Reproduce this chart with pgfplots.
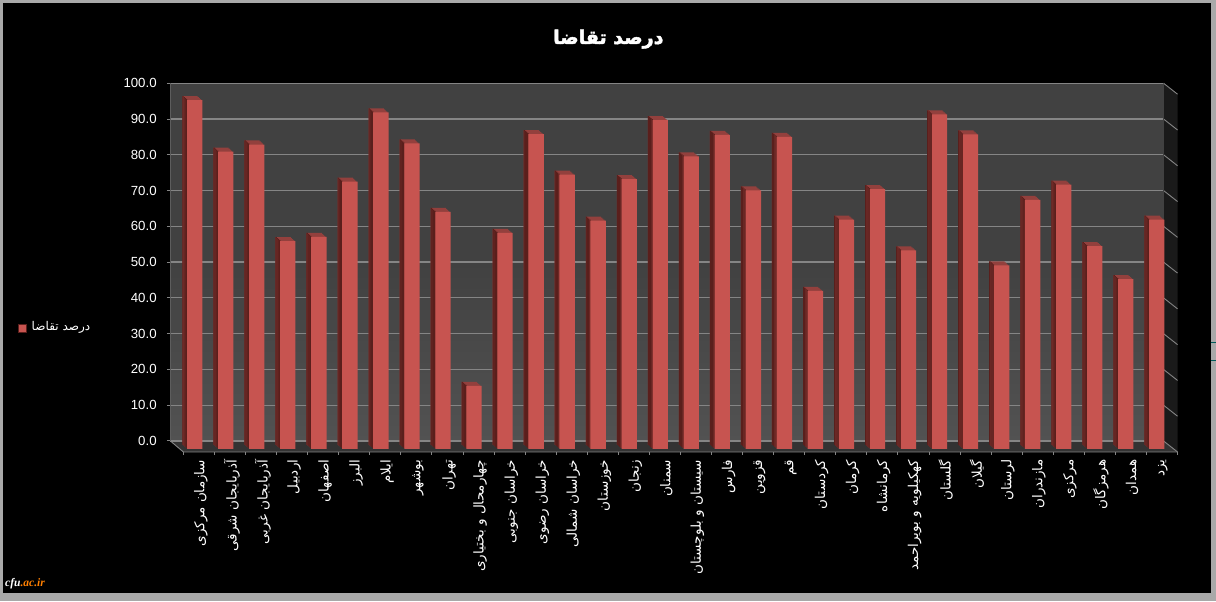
\documentclass[border=0pt]{standalone}
\usepackage{fontspec}
\usepackage{pgfplots}
\usepackage{pgfplotstable}
\pgfplotsset{compat=1.18}
\setmainfont{Liberation Sans}
\newfontfamily\arabicfont[Script=Arabic]{DejaVu Sans}
\newfontfamily\titlefont[Script=Arabic,FakeBold=2.5]{DejaVu Sans Bold}
\newfontfamily\wmfont{Liberation Serif}
\TeXXeTstate=1
\definecolor{framegray}{HTML}{A9A9A9}
\definecolor{wallT}{HTML}{414141}
\definecolor{wallB}{HTML}{525252}
\definecolor{floorc}{HTML}{333333}
\definecolor{sidewall}{HTML}{1A1A1A}
\definecolor{gridc}{HTML}{858585}
\definecolor{barfront}{HTML}{C75450}
\definecolor{bartop}{HTML}{93403D}
\definecolor{barside}{HTML}{5A1F1C}
\pgfplotstableread{
k val
0 97.5
1 83.1
2 85.1
3 58.1
4 59.3
5 74.7
6 94.1
7 85.4
8 66.3
9 17.6
10 60.4
11 88.0
12 76.7
13 63.8
14 75.4
15 91.9
16 81.8
17 87.8
18 72.3
19 87.2
20 44.2
21 64.1
22 72.6
23 55.5
24 93.5
25 87.9
26 51.3
27 69.6
28 73.9
29 56.7
30 47.5
31 64.1
}\demand
\newcommand{\layer}[2]{%
  \addplot[ybar,bar width=15.3pt,bar shift=0pt,fill=bartop,draw=none,xshift=#1pt,yshift=#2pt,forget plot] table[x=k,y=val]{\demand};
  \addplot[ybar,bar width=1.4pt,bar shift=-6.95pt,fill=barside,draw=none,xshift=#1pt,yshift=#2pt,forget plot] table[x=k,y=val]{\demand};
}
\begin{document}
\begin{tikzpicture}[x=1pt,y=1pt]
% frame and background
\fill[framegray] (0,0) rectangle (1213,600);
\fill[black] (3,8) rectangle (1208,597);
\draw[teal!70!black,line width=0.8pt] (1208,258) -- (1213,258);
\draw[teal!70!black,line width=0.8pt] (1208,240) -- (1213,240);
% floor and side wall of the chart box
\fill[floorc] (170,160) -- (1161,160) -- (1175,149) -- (183,149) -- cycle;
\fill[sidewall] (1161,517) -- (1175,506) -- (1175,149) -- (1161,160) -- cycle;
\foreach \i in {0,...,10}{
  \draw[gridc,line width=0.9pt] (1161,{160+35.7*\i}) -- (1175,{149+35.7*\i});
}
\draw[gridc,line width=0.9pt] (170,160) -- (183,149) -- (1175,149);
\foreach \i in {0,...,32}{
  \draw[gridc,line width=0.9pt] ({183+31*\i},149) -- ({183+31*\i},146);
}
\begin{axis}[
  at={(170pt,160pt)},anchor=south west,
  scale only axis,width=991pt,height=357pt,
  xmin=-0.5,xmax=31.5,ymin=0,ymax=100,
  clip=false,
  axis line style={draw=none},
  axis background/.style={top color=wallT,bottom color=wallB,middle color=wallT},
  ymajorgrids,
  grid style={gridc,line width=1.2pt},
  ytick={0,10,...,100},
  xtick={0,...,31},
  xticklabels={
    {\beginR سازمان مرکزی\endR},{\beginR آذربایجان شرقی\endR},{\beginR آذربایجان غربی\endR},{\beginR اردبیل\endR},
    {\beginR اصفهان\endR},{\beginR البرز\endR},{\beginR ایلام\endR},{\beginR بوشهر\endR},{\beginR تهران\endR},
    {\beginR چهارمحال و بختیاری\endR},{\beginR خراسان جنوبی\endR},{\beginR خراسان رضوی\endR},{\beginR خراسان شمالی\endR},
    {\beginR خوزستان\endR},{\beginR زنجان\endR},{\beginR سمنان\endR},{\beginR سیستان و بلوچستان\endR},{\beginR فارس\endR},
    {\beginR قزوین\endR},{\beginR قم\endR},{\beginR کردستان\endR},{\beginR کرمان\endR},{\beginR کرمانشاه\endR},
    {\beginR کهکیلویه و بویراحمد\endR},{\beginR گلستان\endR},{\beginR گیلان\endR},{\beginR لرستان\endR},{\beginR مازندران\endR},
    {\beginR مرکزی\endR},{\beginR هرمزگان\endR},{\beginR همدان\endR},{\beginR یزد\endR}},
  xtick pos=bottom,ytick pos=left,
  x tick style={draw=none},
  y tick style={gridc,line width=0.9pt},
  tick align=outside,
  major tick length=3.5pt,
  xticklabel style={xshift=15pt,yshift=-15pt,rotate=90,anchor=east,inner sep=0pt,
    font=\arabicfont\fontsize{13.5}{15}\selectfont,text=white},
  yticklabel style={xshift=-10pt,font=\fontsize{13.2}{15}\selectfont,text=white,inner sep=0pt,
    /pgf/number format/fixed,/pgf/number format/fixed zerofill,/pgf/number format/precision=1,
    /pgf/number format/assume math mode=true},
  legend style={at={(-0.1535,0.319)},anchor=west,draw=none,fill=none,inner sep=0pt,
    text=white,font=\arabicfont\fontsize{12}{14}\selectfont,
    /tikz/column 1/.style={column sep=3pt}},
  legend image code/.code={\fill[barfront,draw=barside,line width=0.6pt] (0pt,3pt) rectangle (8pt,11pt);},
]
\layer{4.1}{-4}
\layer{5.3}{-5}
\layer{6.4}{-6}
\layer{7.6}{-7}
\addplot[ybar,bar width=15.3pt,bar shift=0pt,fill=barfront,draw=none,xshift=8.8pt,yshift=-8pt]
  table[x=k,y=val]{\demand};
\addlegendentry{\beginR درصد تقاضا\endR}
\end{axis}
\draw[gridc!70!black,line width=1pt] (170,160) -- (170,517);
\node[text=white,font=\titlefont\fontsize{19}{23}\selectfont] at (607,561) {\beginR درصد تقاضا\endR};
\node[anchor=west,inner sep=0pt,font=\wmfont\bfseries\itshape\fontsize{11.5}{13}\selectfont] at (5,18)
  {\textcolor{white}{cfu}\textcolor{orange}{.ac.ir}};
\end{tikzpicture}
\end{document}
